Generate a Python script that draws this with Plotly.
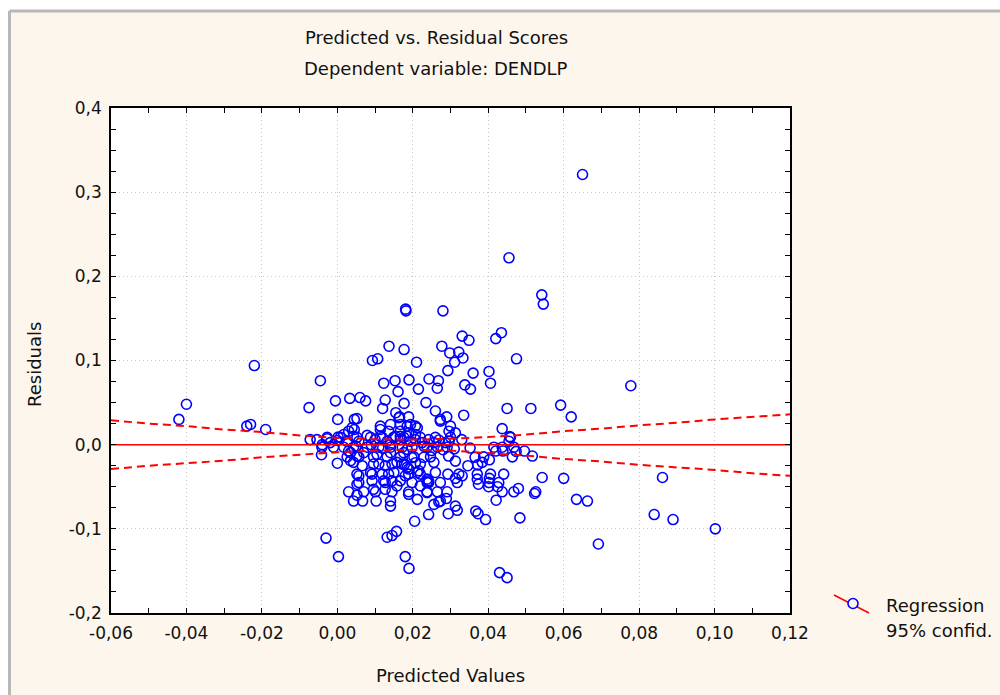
import plotly.graph_objects as go

# Predicted values (x) and residuals (y) for each case
predicted = [
    -0.042, -0.040, -0.022, -0.024, -0.023, -0.019, -0.0075, -0.0045, -0.0072, -0.0042,
    -0.003, 0.0003, -0.0005, 0.0001, 0.0, 0.0033, 0.006, 0.0075, 0.0045, 0.0052,
    0.0045, 0.003, 0.0052, 0.0067, 0.0103, 0.0141, 0.0132, 0.0145, 0.0157, 0.018,
    0.019, 0.0205,
    0.0093, 0.0107, 0.0137, 0.0177, 0.0181, 0.0182, 0.028, 0.021, 0.0123, 0.0153,
    0.0161, 0.019, 0.0215, 0.0243, 0.0268, 0.0265, 0.0277, 0.0293, 0.0127, 0.012,
    0.0177, 0.0235, 0.026, 0.0155, 0.0165, 0.0189, 0.0331, 0.0349, 0.042, 0.0435,
    0.0298, 0.0322, 0.0333, 0.0311, 0.0475, 0.036, 0.0402, 0.0338, 0.0353, 0.0406,
    0.029, 0.0335, 0.0273, 0.030, 0.045, 0.0513, 0.0437, 0.0457, 0.0455,
    0.065, 0.0455, 0.0542, 0.0546, 0.0778, 0.0592, 0.062, 0.0517, 0.0543, 0.060,
    0.0862, 0.0526, 0.0523, 0.0634, 0.0663, 0.084, 0.089, 0.1002, 0.0692, 0.043,
    0.045, 0.0484, 0.0367, 0.0373, 0.0393, 0.048, 0.0421,
    0.042, 0.0439, 0.0474, 0.0496, 0.0365, 0.0384, 0.0403, 0.0346, 0.0372, 0.0371,
    0.0403, 0.0374, 0.0401, 0.0425, 0.0229, 0.0256, 0.0295, 0.0313, 0.0216, 0.026,
    0.0293, 0.0313, 0.0331, 0.022, 0.0238, 0.0212, 0.0242, 0.0289, 0.0269, 0.0256,
    0.0313, 0.0318, 0.0294, 0.0242, 0.0185, 0.0167, 0.0185, 0.0198, 0.0178, 0.0207,
    0.0189, 0.0212, 0.0238, 0.0242, 0.0189,
    -0.0054, -0.0027, 0.0, 0.0026, 0.0057, 0.010, 0.0132, 0.0167, 0.0194, 0.0035,
    0.007, 0.0105, 0.0141, 0.0176, 0.0043, 0.0066, 0.0096, 0.0127, 0.0158, 0.0185,
    0.0057, 0.0088, 0.0119, 0.015, 0.018, 0.0052, 0.0092, 0.0123, 0.0145, 0.0167,
    0.0096, 0.0127, 0.0158, 0.0114, 0.0141, 0.0167, 0.0194, 0.0207, 0.003, 0.0114,
    0.0136, 0.0167, 0.0189, 0.0017, 0.0043, 0.0079, 0.0114, 0.0154, 0.0185, 0.0207,
    0.0207, 0.0242, 0.0269, 0.0296, 0.0212, 0.0296, 0.0313, 0.0225, 0.0256, 0.0287,
    -0.0019, -0.004, 0.0002, 0.003, 0.0052, 0.0035, 0.0052, 0.0057,
    0.0330, 0.0352, 0.0280, 0.0250, 0.0310, 0.0140, 0.0090, 0.0230, 0.0050, 0.0120,
    -0.0027, 0.0008, 0.0052, 0.0088, 0.0119, 0.0149, 0.0176, 0.022, 0.026, 0.030,
    0.0459,
    -0.0041, -0.001, 0.0017, 0.0043, 0.0079, 0.011, 0.0141, 0.0172, 0.0198, 0.0238,
    0.0265, 0.0291, 0.0415, 0.0437, 0.0468,
    0.0026, 0.0057, 0.0096, 0.0132, 0.0167, 0.0203, 0.0247, 0.0388, 0.0464,
    0.011, 0.0145, 0.0172, 0.022,
    0.0092, 0.0136, 0.0189, 0.022, 0.0322, 0.0371, 0.0406, 0.0441,
    0.0127, 0.0198, 0.0238, 0.0273, 0.0318, 0.0402, 0.0428,
    0.007, 0.0101, 0.0145, 0.0189, 0.0238, 0.0265, 0.0291, 0.0437, 0.0468,
    0.0043, 0.0141, 0.0273,
    0.0163, 0.0273, 0.0039,
]
residuals = [
    0.030, 0.048, 0.094, 0.022, 0.024, 0.018, 0.044, 0.076, 0.006, -0.012,
    -0.111, -0.133, 0.052, 0.030, -0.022, 0.055, 0.056, 0.052, 0.030, 0.031,
    0.018, -0.056, -0.060, -0.067, -0.067, -0.073, -0.110, -0.108, -0.103, -0.133,
    -0.147, -0.091,
    0.100, 0.102, 0.117, 0.113, 0.161, 0.159, 0.159, 0.098, 0.073, 0.076,
    0.063, 0.077, 0.066, 0.078, 0.076, 0.067, 0.117, 0.088, 0.053, 0.043,
    0.049, 0.050, 0.040, 0.038, 0.033, 0.033, 0.129, 0.124, 0.126, 0.133,
    0.109, 0.110, 0.103, 0.098, 0.102, 0.085, 0.087, 0.071, 0.066, 0.073,
    0.033, 0.035, 0.028, 0.022, 0.043, 0.043, 0.019, 0.0095, 0.004,
    0.321, 0.222, 0.178, 0.167, 0.070, 0.047, 0.033, -0.0135, -0.039, -0.040,
    -0.039, -0.056, -0.058, -0.065, -0.067, -0.083, -0.089, -0.100, -0.118, -0.152,
    -0.158, -0.087, -0.079, -0.082, -0.089, -0.052, -0.066,
    -0.0076, -0.0076, -0.008, -0.0076, -0.015, -0.021, -0.018, -0.025, -0.024, -0.041,
    -0.040, -0.047, -0.050, -0.050, -0.015, -0.021, -0.0135, -0.0195, -0.031, -0.033,
    -0.035, -0.040, -0.037, -0.049, -0.057, -0.065, -0.043, -0.064, -0.068, -0.071,
    -0.073, -0.078, -0.082, -0.083, 0.022, 0.010, -0.0056, -0.0155, -0.0234, -0.0214,
    -0.029, -0.033, -0.041, -0.045, -0.059,
    0.006, 0.007, 0.005, 0.004, 0.004, 0.006, 0.004, 0.006, 0.004, -0.0095,
    -0.0095, -0.0115, -0.0095, -0.0095, -0.021, -0.025, -0.023, -0.025, -0.021, -0.027,
    -0.037, -0.033, -0.035, -0.033, -0.037, -0.047, -0.043, -0.043, -0.043, -0.043,
    -0.053, -0.053, -0.049, 0.022, 0.024, 0.024, 0.024, 0.022, 0.016, 0.018,
    0.016, 0.016, 0.014, 0.012, 0.010, 0.011, 0.010, 0.010, 0.010, 0.012,
    0.006, 0.006, 0.0055, 0.004, 0.020, 0.016, 0.014, 0.0024, 0.0024, 0.0024,
    0.0024, 0.0, 0.009, -0.0076, -0.0135, -0.019, -0.035, -0.045,
    0.006, -0.004, -0.006, -0.007, -0.005, 0.000, 0.000, -0.002, -0.002, -0.004,
    0.0087, 0.0087, 0.0087, 0.0087, 0.0087, 0.0087, 0.0087, 0.0087, 0.0087, 0.0087,
    0.0087,
    -0.003, -0.003, -0.003, -0.003, -0.003, -0.003, -0.003, -0.003, -0.003, -0.003,
    -0.003, -0.003, -0.003, -0.003, -0.003,
    -0.0145, -0.0145, -0.0145, -0.0145, -0.0145, -0.0145, -0.0145, -0.0145, -0.0145,
    -0.023, -0.023, -0.023, -0.023,
    -0.035, -0.035, -0.035, -0.035, -0.035, -0.035, -0.035, -0.035,
    -0.045, -0.045, -0.045, -0.045, -0.045, -0.045, -0.045,
    -0.056, -0.056, -0.056, -0.056, -0.056, -0.056, -0.056, -0.056, -0.056,
    -0.067, -0.067, -0.067,
    0.032, 0.030, 0.020,
]

# Regression line (residual = 0) and its 95% confidence band
reg_x = [-0.06, 0.12]
reg_y = [0.0, 0.0]
band_x = [-0.06, -0.05, -0.04, -0.03, -0.02, -0.01, 0.0, 0.01, 0.02, 0.03,
          0.04, 0.05, 0.06, 0.07, 0.08, 0.09, 0.10, 0.11, 0.12]
band_upper = [0.029, 0.025, 0.022, 0.018, 0.015, 0.011, 0.008, 0.0065, 0.006, 0.007,
              0.009, 0.012, 0.016, 0.019, 0.023, 0.026, 0.030, 0.033, 0.036]
band_lower = [-0.029, -0.025, -0.022, -0.019, -0.015, -0.012, -0.009, -0.007, -0.006, -0.007,
              -0.010, -0.013, -0.017, -0.020, -0.024, -0.027, -0.030, -0.034, -0.037]

# Axis ticks
x_ticks = [-0.06, -0.04, -0.02, 0.0, 0.02, 0.04, 0.06, 0.08, 0.10, 0.12]
x_tick_labels = ["-0,06", "-0,04", "-0,02", "0,00", "0,02", "0,04", "0,06", "0,08", "0,10", "0,12"]
y_ticks = [-0.2, -0.1, 0.0, 0.1, 0.2, 0.3, 0.4]
y_tick_labels = ["-0,2", "-0,1", "0,0", "0,1", "0,2", "0,3", "0,4"]

FONT = "DejaVu Sans"
TXT = "#111111"
CREAM = "#fdf6ec"

fig = go.Figure()
fig.add_trace(go.Scatter(
    x=predicted, y=residuals, mode="markers",
    marker=dict(symbol="circle-open", size=10, color="#0000ff", line=dict(width=1.6, color="#0000ff")),
    showlegend=False, hoverinfo="x+y",
))
fig.add_trace(go.Scatter(x=band_x, y=band_upper, mode="lines",
                         line=dict(color="#ff0000", width=2, dash="8px,5px"), showlegend=False))
fig.add_trace(go.Scatter(x=band_x, y=band_lower, mode="lines",
                         line=dict(color="#ff0000", width=2, dash="8px,5px"), showlegend=False))
fig.add_trace(go.Scatter(x=reg_x, y=reg_y, mode="lines",
                         line=dict(color="#ff0000", width=1.5), showlegend=False))

axis_common = dict(
    showline=True, linecolor="#000000", linewidth=1.5, mirror="allticks",
    ticks="inside", ticklen=5, tickcolor="#000000", tickwidth=1,
    showgrid=True, gridcolor="#c4c4c4", griddash="1px,3px", gridwidth=1.3,
    zeroline=False, tickfont=dict(family=FONT, size=17, color=TXT),
)

fig.update_xaxes(
    range=[-0.06, 0.12], tickmode="array", tickvals=x_ticks, ticktext=x_tick_labels,
    minor=dict(dtick=0.01, tick0=0, ticks="inside", ticklen=5, tickcolor="#000000", showgrid=False),
    ticklabelstandoff=4,
    **axis_common,
)
fig.update_yaxes(
    range=[-0.2, 0.4], tickmode="array", tickvals=y_ticks, ticktext=y_tick_labels,
    minor=dict(dtick=0.025, tick0=0, ticks="inside", ticklen=5, tickcolor="#000000", showgrid=False),
    ticklabelstandoff=4,
    **axis_common,
)

# plot area spans pixels x 111..790, y 108..613
L, R, T, B = 111, 210, 108, 82
PW, PH = 1000 - L - R, 695 - T - B


def px(x):
    return (x - L) / PW


def py(y):
    return (695 - B - y) / PH


annotations = [
    dict(text="Predicted vs. Residual Scores", x=px(436), y=py(37)),
    dict(text="Dependent variable: DENDLP", x=px(436), y=py(69)),
    dict(text="Predicted Values", x=px(450), y=py(675)),
    dict(text="Residuals", x=px(34), y=py(365), textangle=-90),
    dict(text="Regression", x=px(884), y=py(605), xanchor="left"),
    dict(text="95% confid.", x=px(884), y=py(630), xanchor="left"),
]
for a in annotations:
    a.setdefault("xanchor", "center")
    a.update(xref="paper", yref="paper", yanchor="middle", showarrow=False,
             font=dict(family=FONT, size=18, color=TXT))

shapes = [
    # white strips and grey frame edge around the cream panel
    dict(type="rect", xref="paper", yref="paper", x0=px(-5), x1=px(1005), y0=py(10), y1=py(-5),
         fillcolor="#ffffff", line=dict(width=0), layer="above"),
    dict(type="rect", xref="paper", yref="paper", x0=px(-5), x1=px(8), y0=py(700), y1=py(-5),
         fillcolor="#ffffff", line=dict(width=0), layer="above"),
    dict(type="line", xref="paper", yref="paper", x0=px(9.5), x1=px(1005), y0=py(11), y1=py(11),
         line=dict(color="#b8b8b8", width=3)),
    dict(type="line", xref="paper", yref="paper", x0=px(9.5), x1=px(9.5), y0=py(11), y1=py(700),
         line=dict(color="#b8b8b8", width=3)),
    # legend key: red line through a blue open circle
    dict(type="line", xref="paper", yref="paper", x0=px(834), y0=py(595), x1=px(869), y1=py(613),
         line=dict(color="#ff0000", width=1.5)),
    dict(type="circle", xref="paper", yref="paper", xsizemode="pixel", ysizemode="pixel",
         xanchor=px(853), yanchor=py(603.5), x0=-5, x1=5, y0=-5, y1=5,
         fillcolor=CREAM, line=dict(color="#0000ff", width=1.6)),
]

fig.update_layout(
    width=1000, height=695, autosize=False,
    margin=dict(l=L, r=R, t=T, b=B, pad=0),
    paper_bgcolor=CREAM, plot_bgcolor="#ffffff",
    showlegend=False, annotations=annotations, shapes=shapes,
    font=dict(family=FONT, size=17, color=TXT),
)

fig.write_html("out.html")
